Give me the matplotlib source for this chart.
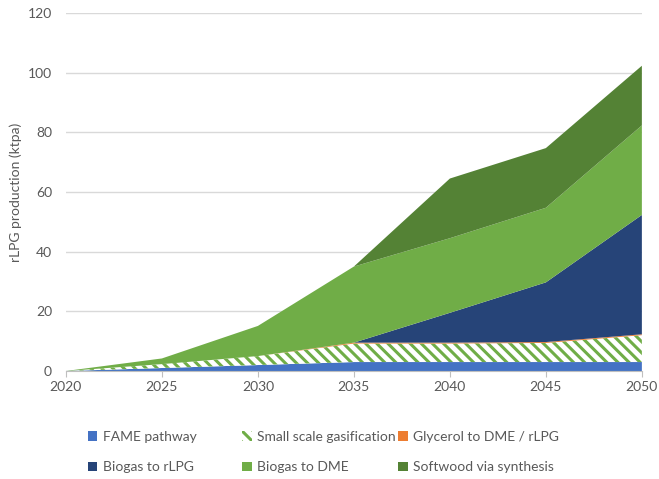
import matplotlib.pyplot as plt

plt.rcParams["font.family"] = ["Lato", "DejaVu Sans"]
plt.rcParams["hatch.linewidth"] = 2.2

# data (ktpa)
years = [2020, 2025, 2030, 2035, 2040, 2045, 2050]
fame = [0, 1.0, 2.0, 3.0, 3.0, 3.0, 3.0]
gasification = [0, 1.3, 3.0, 6.2, 6.2, 6.4, 9.0]
glycerol = [0, 0, 0, 0.3, 0.3, 0.3, 0.3]
biogas_rlpg = [0, 0, 0, 0, 10, 20, 40]
biogas_dme = [0, 1.9, 10.1, 25.5, 25, 25, 30]
softwood = [0, 0, 0, 0, 20, 20, 20]

labels = ["FAME pathway", "Small scale gasification", "Glycerol to DME / rLPG",
          "Biogas to rLPG", "Biogas to DME", "Softwood via synthesis"]
COLORS = ["#4472C4", "white", "#ED7D31", "#264478", "#70AD47", "#548235"]
GREY = "#595959"

fig = plt.figure(figsize=(6.59, 4.79), dpi=100)
ax = fig.add_axes([0.100, 0.2255, 0.874, 0.7475])

polys = ax.stackplot(years, fame, gasification, glycerol, biogas_rlpg,
                     biogas_dme, softwood, colors=COLORS, labels=labels,
                     linewidth=0)
polys[1].set_hatch("\\\\\\")
polys[1].set_edgecolor("#70AD47")
polys[1].set_linewidth(0)

ax.set_xlim(2020, 2050)
ax.set_ylim(0, 120)
ax.set_xticks(years)
ax.set_yticks(range(0, 121, 20))
ax.grid(axis="y", color="#D9D9D9", linewidth=1)
ax.set_axisbelow(True)
for s in ["top", "right", "left"]:
    ax.spines[s].set_visible(False)
ax.spines["bottom"].set_color("#BFBFBF")
ax.tick_params(axis="y", length=0, labelsize=10, labelcolor=GREY, pad=10)
ax.tick_params(axis="x", length=4, color="#BFBFBF", labelsize=10,
               labelcolor=GREY, pad=3)
ax.set_ylabel("rLPG production (ktpa)", fontsize=10, color=GREY)
ax.yaxis.set_label_coords(-0.076, 0.5)

# legend laid out row-wise like the original: one legend per column
col_x = [0.133, 0.367, 0.604]
for i, x in enumerate(col_x):
    fig.legend([polys[i], polys[i + 3]], [labels[i], labels[i + 3]],
               loc="lower left", bbox_to_anchor=(x, 0.012), ncols=1,
               frameon=False, fontsize=10, labelcolor=GREY, handlelength=0.7,
               handleheight=0.7, handletextpad=0.4, labelspacing=1.35,
               borderpad=0, borderaxespad=0)

fig.savefig("out.png", dpi=100)
